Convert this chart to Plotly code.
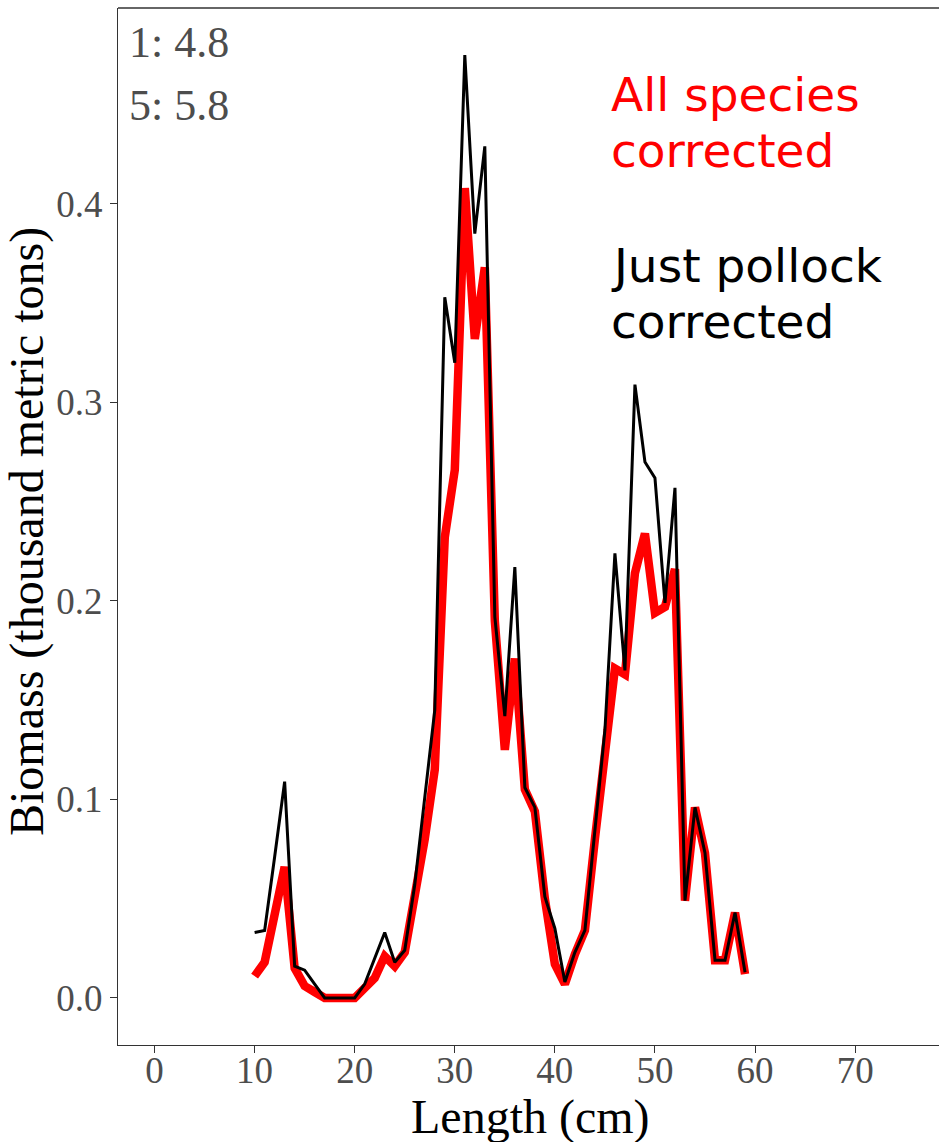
import plotly.graph_objects as go

lengths = list(range(10, 60))

just_pollock = [0.033, 0.034, 0.071, 0.109, 0.016, 0.014, 0.007, 0.0, 0.0, 0.0,
                0.0, 0.007, 0.020, 0.033, 0.018, 0.024, 0.057, 0.100, 0.145, 0.353,
                0.320, 0.475, 0.385, 0.429, 0.192, 0.142, 0.217, 0.106, 0.096, 0.051,
                0.035, 0.008, 0.023, 0.034, 0.085, 0.135, 0.224, 0.165, 0.309, 0.270,
                0.262, 0.199, 0.257, 0.049, 0.096, 0.073, 0.019, 0.019, 0.043, 0.013]

all_species = [0.011, 0.018, 0.042, 0.066, 0.015, 0.006, 0.003, 0.0, 0.0, 0.0,
               0.0, 0.005, 0.010, 0.021, 0.016, 0.023, 0.050, 0.080, 0.115, 0.232,
               0.266, 0.408, 0.332, 0.368, 0.190, 0.125, 0.171, 0.105, 0.094, 0.050,
               0.017, 0.007, 0.022, 0.034, 0.080, 0.125, 0.166, 0.163, 0.214, 0.234,
               0.194, 0.197, 0.216, 0.049, 0.096, 0.073, 0.019, 0.019, 0.043, 0.012]

x_ticks = [0, 10, 20, 30, 40, 50, 60, 70]
y_ticks = [0.0, 0.1, 0.2, 0.3, 0.4]
y_tick_labels = ["0.0", "0.1", "0.2", "0.3", "0.4"]

fig = go.Figure()
fig.add_trace(go.Scatter(x=lengths, y=all_species, mode="lines",
                         line=dict(color="#FF0000", width=8.5),
                         name="All species corrected", showlegend=False))
fig.add_trace(go.Scatter(x=lengths, y=just_pollock, mode="lines",
                         line=dict(color="#000000", width=3),
                         name="Just pollock corrected", showlegend=False))

serif = "Liberation Serif, Times New Roman, serif"
sans = "DejaVu Sans, Verdana, sans-serif"
axis_col = "#333333"

fig.update_layout(
    width=939, height=1142,
    margin=dict(l=118, r=0, t=8, b=97),
    plot_bgcolor="white", paper_bgcolor="white",
    xaxis=dict(range=[-3.65, 78.38], tickvals=x_ticks, ticks="outside", ticklen=7,
               tickcolor=axis_col, tickwidth=1.3, showgrid=False, zeroline=False,
               showline=True, linecolor=axis_col, linewidth=1.3,
               ticklabelstandoff=-15,
               tickfont=dict(family=serif, size=37, color="#4D4D4D")),
    yaxis=dict(range=[-0.0237, 0.4987], tickvals=y_ticks, ticktext=y_tick_labels,
               ticks="outside", ticklen=7, tickcolor=axis_col, tickwidth=1.3,
               showgrid=False, zeroline=False, showline=True, linecolor=axis_col,
               linewidth=1.3, tickfont=dict(family=serif, size=37, color="#4D4D4D")),
)

fig.add_shape(type="line", xref="paper", yref="paper", x0=0, x1=1, y0=1, y1=1,
              line=dict(color=axis_col, width=1.3))

def ann(text, px, py, size, color, family, xanchor="left", textangle=0):
    fig.add_annotation(text=text, xref="paper", yref="paper",
                       x=(px - 118) / 821, y=(1045 - py) / 1037,
                       xanchor=xanchor, yanchor="middle", showarrow=False,
                       textangle=textangle,
                       font=dict(family=family, size=size, color=color))

ann("Biomass (thousand metric tons)", 27, 532, 48, "#000000", serif, "center", -90)
ann("Length (cm)", 530, 1117, 48, "#000000", serif, "center")
ann("1: 4.8", 127, 42, 44, "#4D4D4D", serif)
ann("5: 5.8", 127, 106, 44, "#4D4D4D", serif)
ann("All species", 609, 95, 47, "#FF0000", sans)
ann("corrected", 609, 151, 47, "#FF0000", sans)
ann("Just pollock", 609, 265, 47, "#000000", sans)
ann("corrected", 609, 321, 47, "#000000", sans)

fig.write_html("out.html")
